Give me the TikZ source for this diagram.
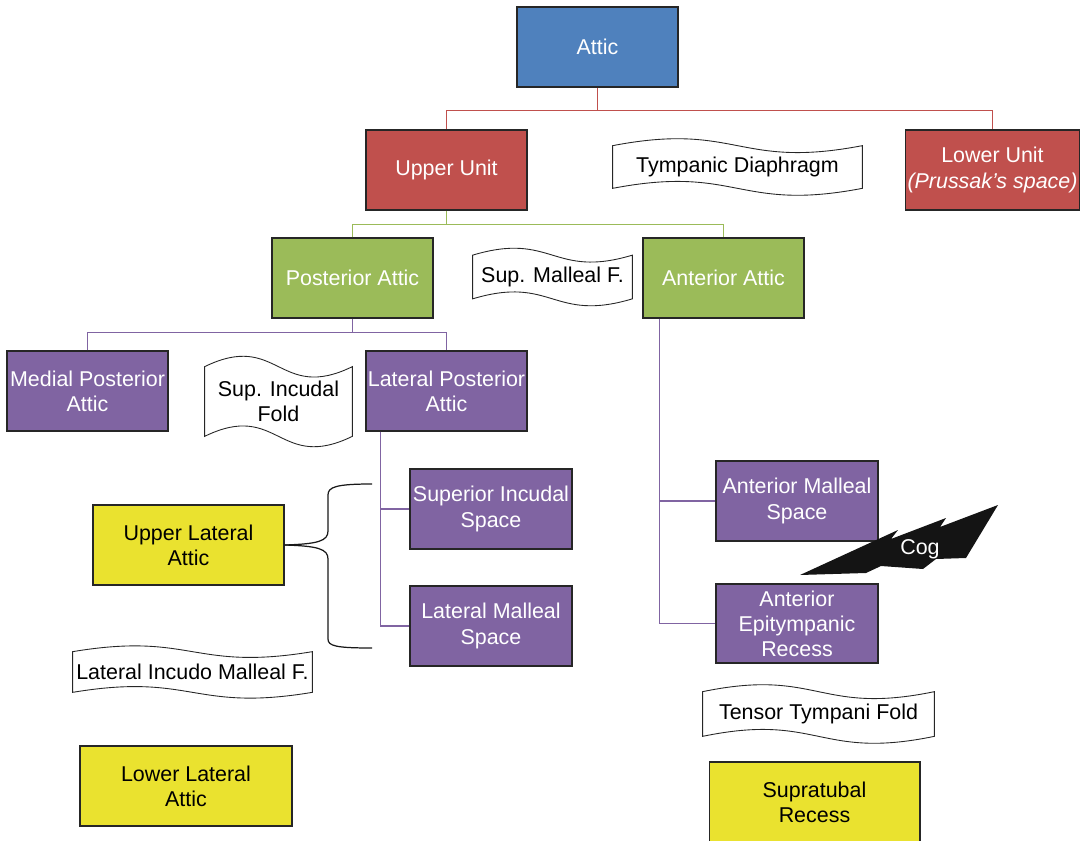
\documentclass[tikz,border=0pt]{standalone}
\usepackage{fontspec}
\setmainfont{Liberation Sans}
\usetikzlibrary{calc}

\definecolor{atticblue}{RGB}{79,129,189}
\definecolor{unitred}{RGB}{192,80,77}
\definecolor{atticgreen}{RGB}{155,187,89}
\definecolor{spacepurple}{RGB}{128,100,162}
\definecolor{lateralyellow}{RGB}{234,226,47}

\tikzset{
  unitbox/.style={draw=black!85, line width=0.6pt, align=center, text=white,
    minimum width=3.22cm, minimum height=1.6cm, inner sep=1pt},
  yellowbox/.style={unitbox, fill=lateralyellow, text=black},
  foldnote/.style={align=center, inner sep=0pt},
  foldline/.style={draw=black!85, line width=0.5pt},
  redlink/.style={unitred, line width=0.6pt},
  greenlink/.style={atticgreen, line width=0.6pt},
  purplelink/.style={spacepurple, line width=0.6pt},
  bracelink/.style={black!90, line width=0.7pt},
}

% wavy banner round a fold node
\newcommand{\foldwave}[2]{%
  \draw[foldline] (#1.north west) .. controls ($(#1.north)+(0,-#2)$) and ($(#1.north)+(0,#2)$) .. (#1.north east)
    -- (#1.south east) .. controls ($(#1.south)+(0,#2)$) and ($(#1.south)+(0,-#2)$) .. (#1.south west) -- cycle;}

\begin{document}
\begin{tikzpicture}[x=0.02cm, y=-0.02cm, every node/.style={font=\fontsize{12.2}{14.3}\selectfont}]

  \useasboundingbox (0,0) rectangle (1082,841);

  % top levels
  \node[unitbox, fill=atticblue] (attic) at (597.5,47) {Attic};
  \node[unitbox, fill=unitred] (upper) at (446.5,170) {Upper Unit};
  \node[unitbox, fill=unitred, minimum width=3.42cm] (lower) at (992.5,170) {Lower Unit\\\textit{(Prussak’s space)}};
  \node[foldnote, minimum width=4.98cm, minimum height=0.84cm] (tympdia) at (737.5,167) {Tympanic Diaphragm};
  \foldwave{tympdia}{24}

  \node[unitbox, fill=atticgreen] (postattic) at (352.5,278) {Posterior Attic};
  \node[unitbox, fill=atticgreen] (antattic) at (723.5,278) {Anterior Attic};
  \node[foldnote, minimum width=3.18cm, minimum height=0.86cm] (supmal) at (552.5,277) {Sup. Malleal F.};
  \foldwave{supmal}{24}

  % posterior side
  \node[unitbox, fill=spacepurple] (medpost) at (87.5,391) {Medial Posterior\\Attic};
  \node[foldnote, minimum width=2.94cm, minimum height=1.38cm] (supincfold) at (278.5,401.5) {Sup. Incudal\\Fold};
  \foldwave{supincfold}{36}
  \node[unitbox, fill=spacepurple] (latpost) at (446.5,391) {Lateral Posterior\\Attic};
  \node[unitbox, fill=spacepurple, minimum width=3.24cm] (supinc) at (491,509) {Superior Incudal\\Space};
  \node[unitbox, fill=spacepurple, minimum width=3.24cm] (latmal) at (491,626) {Lateral Malleal\\Space};
  \node[yellowbox, minimum width=3.82cm] (upperlat) at (188.5,545) {Upper Lateral\\Attic};
  \node[foldnote, minimum width=4.78cm, minimum height=0.8cm] (latincmal) at (192.5,672) {Lateral Incudo Malleal F.};
  \foldwave{latincmal}{20}
  \node[yellowbox, minimum width=4.24cm] (lowerlat) at (186,786) {Lower Lateral\\Attic};

  % anterior side
  \node[unitbox, fill=spacepurple, minimum width=3.24cm] (antmal) at (797,501) {Anterior Malleal\\Space};
  \node[unitbox, fill=spacepurple, minimum width=3.24cm, minimum height=1.58cm] (epirecess) at (797,623.5) {Anterior\\Epitympanic\\Recess};
  \node[foldnote, minimum width=4.62cm, minimum height=0.88cm] (tensor) at (818.5,714) {Tensor Tympani Fold};
  \foldwave{tensor}{24}
  \node[yellowbox, minimum width=4.22cm] (supratubal) at (814.5,802) {Supratubal\\Recess};

  % cog
  \fill[black!92] (800,575) -- (898,530) -- (891,539) -- (946,518) -- (940,527) -- (998,505)
    -- (966,558) -- (936,559) -- (923,569) -- (881,566) -- (866,573) -- cycle;
  \node[text=white] (cog) at (920,549) {Cog};

  % links
  \draw[redlink] (attic.south) -- ++(0,23) coordinate (atticbus);
  \draw[redlink] (upper.north) |- (atticbus) -| (lower.north);

  \draw[greenlink] (upper.south) -- ++(0,14) coordinate (upperbus);
  \draw[greenlink] (postattic.north) |- (upperbus) -| (antattic.north);

  \draw[purplelink] (postattic.south) -- ++(0,14) coordinate (postbus);
  \draw[purplelink] (medpost.north) |- (postbus) -| (latpost.north);

  \draw[purplelink] ($(latpost.south west)+(15,0)$) |- (supinc.west);
  \draw[purplelink] ($(latpost.south west)+(15,0)$) |- (latmal.west);

  \draw[purplelink] ($(antattic.south west)+(17,0)$) |- (antmal.west);
  \draw[purplelink] ($(antattic.south west)+(17,0)$) |- (epirecess.west);

  % brace
  \coordinate (bracetop) at (372,484);
  \coordinate (bracebot) at (372,648);
  \draw[bracelink] (upperlat.east) .. controls (318,544) and (328,541) .. (328,531)
    -- (328,495) .. controls (328,487) and (336,484) .. (bracetop);
  \draw[bracelink] (upperlat.east) .. controls (318,546) and (328,549) .. (328,559)
    -- (328,639) .. controls (328,646) and (336,648) .. (bracebot);

\end{tikzpicture}
\end{document}
